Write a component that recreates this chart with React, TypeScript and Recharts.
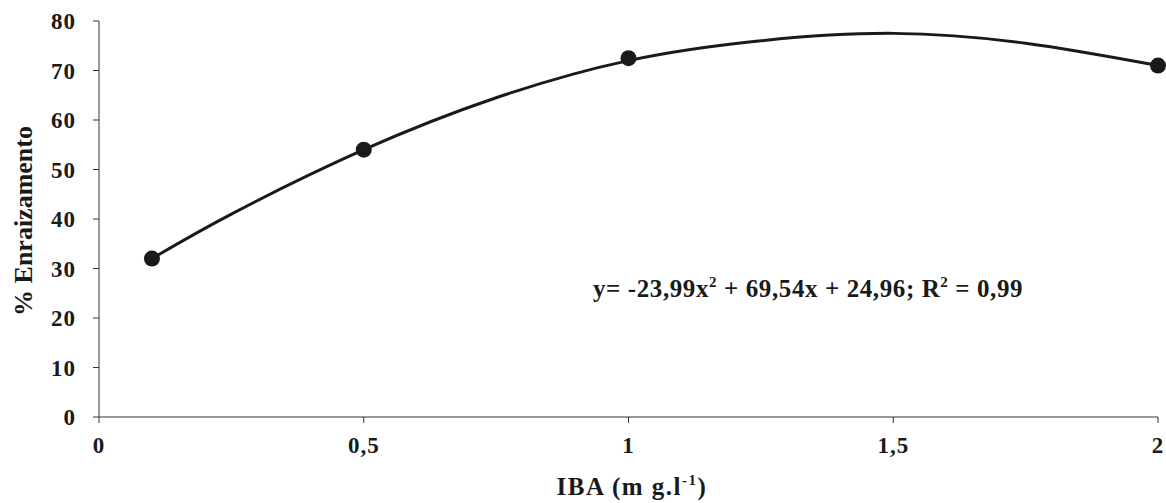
import React from 'react';
import { ComposedChart, Line, Scatter, XAxis, YAxis, Label } from 'recharts';

// observed means (dots)
const doseX = [0.1, 0.5, 1, 2];
const rootingY = [32, 54, 72.5, 71];

// fitted curve
const curveX = [0.1, 0.25, 0.5, 0.75, 1, 1.25, 1.5, 1.75, 2];
const curveY = [32, 41, 54, 64.5, 72, 76, 77.5, 75.5, 71];

const xTicks = [0, 0.5, 1, 1.5, 2];
const yTicks = [0, 10, 20, 30, 40, 50, 60, 70, 80];

const FONT = '"Liberation Serif", "Times New Roman", serif';
const INK = '#1a1a1a';

const points = doseX.map((x, i) => ({ x, y: rootingY[i] }));
const curve = curveX.map((x, i) => ({ x, y: curveY[i] }));

const tickStyle = { fontFamily: FONT, fontWeight: 700, fontSize: 23, fill: INK, letterSpacing: 1 };

export default function App() {
  return (
    <div style={{ position: 'absolute', left: 0, top: 0, width: 1166, height: 503, background: '#fff' }}>
      <ComposedChart width={1166} height={503} margin={{ top: 21, right: 8, left: 0, bottom: 46 }}>
        <XAxis
          type="number"
          dataKey="x"
          domain={[0, 2]}
          ticks={xTicks}
          tickFormatter={(v: number) => String(v).replace('.', ',')}
          tick={tickStyle}
          tickSize={6}
          tickMargin={14}
          height={40}
          stroke="#333"
        >
          <Label
            content={() => (
              <text
                x={632}
                y={495}
                textAnchor="middle"
                style={{ fontFamily: FONT, fontWeight: 700, fontSize: 25, fill: INK, letterSpacing: 1.5 }}
              >
                IBA (m g.l<tspan dy={-10} fontSize={15}>-1</tspan><tspan dy={10}>)</tspan>
              </text>
            )}
          />
        </XAxis>
        <YAxis
          type="number"
          domain={[0, 80]}
          ticks={yTicks}
          tick={tickStyle}
          tickSize={6}
          tickMargin={17}
          width={99}
          stroke="#333"
        >
          <Label
            content={() => (
              <text
                transform="translate(32,221) rotate(-90)"
                textAnchor="middle"
                style={{ fontFamily: FONT, fontWeight: 700, fontSize: 26, fill: INK }}
              >
                % Enraizamento
              </text>
            )}
          />
        </YAxis>
        <Line
          data={curve}
          dataKey="y"
          type="natural"
          stroke={INK}
          strokeWidth={3}
          dot={false}
          activeDot={false}
          isAnimationActive={false}
        />
        <Scatter
          data={points}
          dataKey="y"
          fill={INK}
          isAnimationActive={false}
          shape={(p: any) => <circle cx={p.cx} cy={p.cy} r={8} fill={INK} />}
        />
      </ComposedChart>
      <div
        style={{
          position: 'absolute',
          left: 593,
          top: 274,
          fontFamily: FONT,
          fontWeight: 700,
          fontSize: 25,
          color: INK,
          whiteSpace: 'nowrap',
          lineHeight: '30px',
          letterSpacing: 0.6,
        }}
      >
        y= -23,99x<span style={{ fontSize: 15, position: 'relative', top: -10 }}>2</span> + 69,54x + 24,96; R
        <span style={{ fontSize: 15, position: 'relative', top: -10 }}>2</span> = 0,99
      </div>
    </div>
  );
}
